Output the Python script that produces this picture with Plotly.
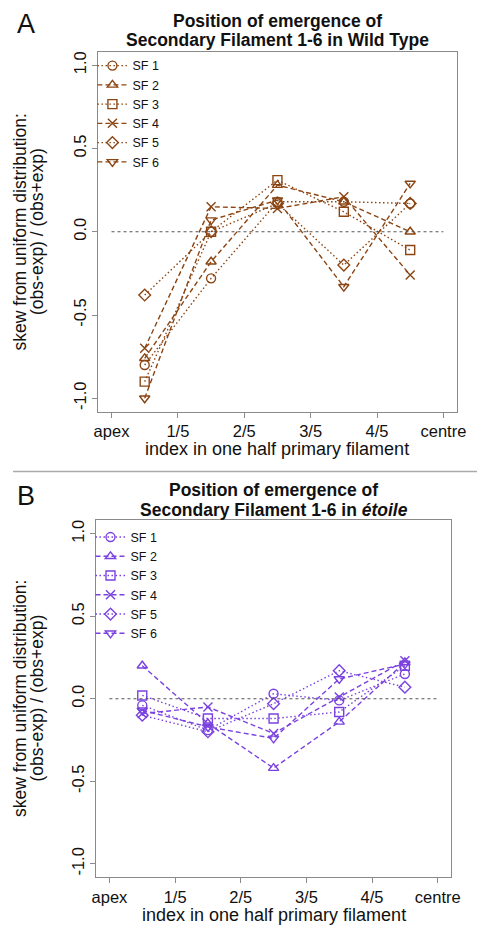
import plotly.graph_objects as go

W, H = 487, 937
OFF = 8  # default page body margin in the written html

positions = [0.1, 0.3, 0.5, 0.7, 0.9]
x_tick_vals = [0, 0.2, 0.4, 0.6, 0.8, 1.0]
x_tick_text = ["apex", "1/5", "2/5", "3/5", "4/5", "centre"]
y_tick_vals = [-1.0, -0.5, 0.0, 0.5, 1.0]
y_tick_text = ["-1.0", "-0.5", "0.0", "0.5", "1.0"]
series_names = ["SF 1", "SF 2", "SF 3", "SF 4", "SF 5", "SF 6"]

# Panel A: Wild Type
wt_sf1 = [-0.80, -0.28, 0.18, 0.18, 0.17]
wt_sf2 = [-0.76, -0.18, 0.28, 0.18, 0.00]
wt_sf3 = [-0.90, 0.00, 0.31, 0.12, -0.11]
wt_sf4 = [-0.70, 0.15, 0.14, 0.21, -0.26]
wt_sf5 = [-0.38, 0.00, 0.17, -0.20, 0.17]
wt_sf6 = [-1.00, 0.07, 0.19, -0.33, 0.29]

# Panel B: etoile
et_sf1 = [-0.04, -0.19, 0.03, -0.01, 0.15]
et_sf2 = [0.20, -0.15, -0.42, -0.14, 0.22]
et_sf3 = [0.02, -0.12, -0.12, -0.08, 0.20]
et_sf4 = [-0.09, -0.05, -0.21, 0.01, 0.23]
et_sf5 = [-0.10, -0.20, -0.03, 0.17, 0.07]
et_sf6 = [-0.07, -0.17, -0.24, 0.12, 0.21]

wt_series = [wt_sf1, wt_sf2, wt_sf3, wt_sf4, wt_sf5, wt_sf6]
et_series = [et_sf1, et_sf2, et_sf3, et_sf4, et_sf5, et_sf6]

BROWN = "#8B4513"
PURPLE = "#7B42E0"
FONT = "Liberation Sans, Arial, Helvetica, sans-serif"

symbols = ["circle-open", "triangle-up-open", "square-open", "x-thin-open",
           "diamond-open", "triangle-down-open"]
dashes = ["1.5px,2.5px", "5px,3px", "1.5px,2.5px", "5px,3px", "1.5px,2.5px", "5px,3px"]

FW, FH = W - OFF, H - OFF


def px_x(p):
    return (p - OFF) / FW


def px_y(p):
    return 1 - (p - OFF) / FH


fig = go.Figure()

for i, (name, vals) in enumerate(zip(series_names, wt_series)):
    fig.add_trace(go.Scatter(
        x=positions, y=vals, name=name, mode="lines+markers",
        line=dict(color=BROWN, width=1.4, dash=dashes[i]),
        marker=dict(symbol=symbols[i], size=9, color=BROWN,
                    line=dict(color=BROWN, width=1.4)),
        xaxis="x", yaxis="y", legend="legend",
    ))

for i, (name, vals) in enumerate(zip(series_names, et_series)):
    fig.add_trace(go.Scatter(
        x=positions, y=vals, name=name, mode="lines+markers",
        line=dict(color=PURPLE, width=1.4, dash=dashes[i]),
        marker=dict(symbol=symbols[i], size=9, color=PURPLE,
                    line=dict(color=PURPLE, width=1.4)),
        xaxis="x2", yaxis="y2", legend="legend2",
    ))

axis_common = dict(
    showline=True, mirror=True, linecolor="#8a8a8a", linewidth=1.2,
    ticks="outside", ticklen=5, tickcolor="#8a8a8a", tickwidth=1,
    showgrid=False, zeroline=False,
    tickfont=dict(family=FONT, size=16.5, color="#111"),
)

fig.update_layout(
    width=FW, height=FH,
    margin=dict(l=0, r=0, t=0, b=0),
    paper_bgcolor="white", plot_bgcolor="white",
    font=dict(family=FONT, color="#111"),
    xaxis=dict(domain=[px_x(96), px_x(466)], range=[-0.04, 1.04], anchor="y",
               tickvals=x_tick_vals, ticktext=x_tick_text, **axis_common),
    yaxis=dict(domain=[px_y(411), px_y(51)], range=[-1.08, 1.08], anchor="x",
               tickvals=y_tick_vals, ticktext=y_tick_text, tickangle=-90, **axis_common),
    xaxis2=dict(domain=[px_x(94), px_x(460)], range=[-0.04, 1.04], anchor="y2",
                tickvals=x_tick_vals, ticktext=x_tick_text, **axis_common),
    yaxis2=dict(domain=[px_y(877), px_y(520)], range=[-1.08, 1.08], anchor="x2",
                tickvals=y_tick_vals, ticktext=y_tick_text, tickangle=-90, **axis_common),
    legend=dict(x=px_x(90), y=px_y(50), xanchor="left", yanchor="top",
                bgcolor="rgba(0,0,0,0)", borderwidth=0,
                font=dict(family=FONT, size=12.5, color="#111"), tracegroupgap=0),
    legend2=dict(x=px_x(88), y=px_y(522), xanchor="left", yanchor="top",
                 bgcolor="rgba(0,0,0,0)", borderwidth=0,
                 font=dict(family=FONT, size=12.5, color="#111"), tracegroupgap=0),
    showlegend=True,
)

# reference lines at y = 0 from apex to centre
for xr, yr in (("x", "y"), ("x2", "y2")):
    fig.add_shape(type="line", xref=xr, yref=yr, x0=0, x1=1, y0=0, y1=0,
                  line=dict(color="#555", width=1.2, dash="3px,3px"))

# separator between panels
fig.add_shape(type="line", xref="paper", yref="paper", x0=0, x1=1,
              y0=px_y(471), y1=px_y(471), line=dict(color="#aaaaaa", width=1.5))


def ann(text, x, y, size, angle=0, bold=False):
    fig.add_annotation(text=(f"<b>{text}</b>" if bold else text),
                       x=px_x(x), y=px_y(y), xref="paper", yref="paper",
                       showarrow=False, xanchor="center", yanchor="middle",
                       textangle=angle,
                       font=dict(family=FONT, size=size, color="#111"))


# Panel A texts
ann("A", 21, 23, 27)
ann("Position of emergence of", 281, 20, 17.5, bold=True)
ann("Secondary Filament 1-6 in Wild Type", 281, 39, 17.5, bold=True)
ann("index in one half primary filament", 281, 448, 18)
ann("skew from uniform distribution:", 15, 231, 17.5, angle=-90)
ann("(obs-exp) / (obs+exp)", 33, 231, 17.5, angle=-90)

# Panel B texts
ann("B", 21, 496, 27)
ann("Position of emergence of", 277, 490, 17.5, bold=True)
ann("Secondary Filament 1-6 in <i>étoile</i>", 277, 510, 17.5, bold=True)
ann("index in one half primary filament", 277, 915, 18)
ann("skew from uniform distribution:", 15, 698, 17.5, angle=-90)
ann("(obs-exp) / (obs+exp)", 33, 698, 17.5, angle=-90)

fig.write_html("out.html")
